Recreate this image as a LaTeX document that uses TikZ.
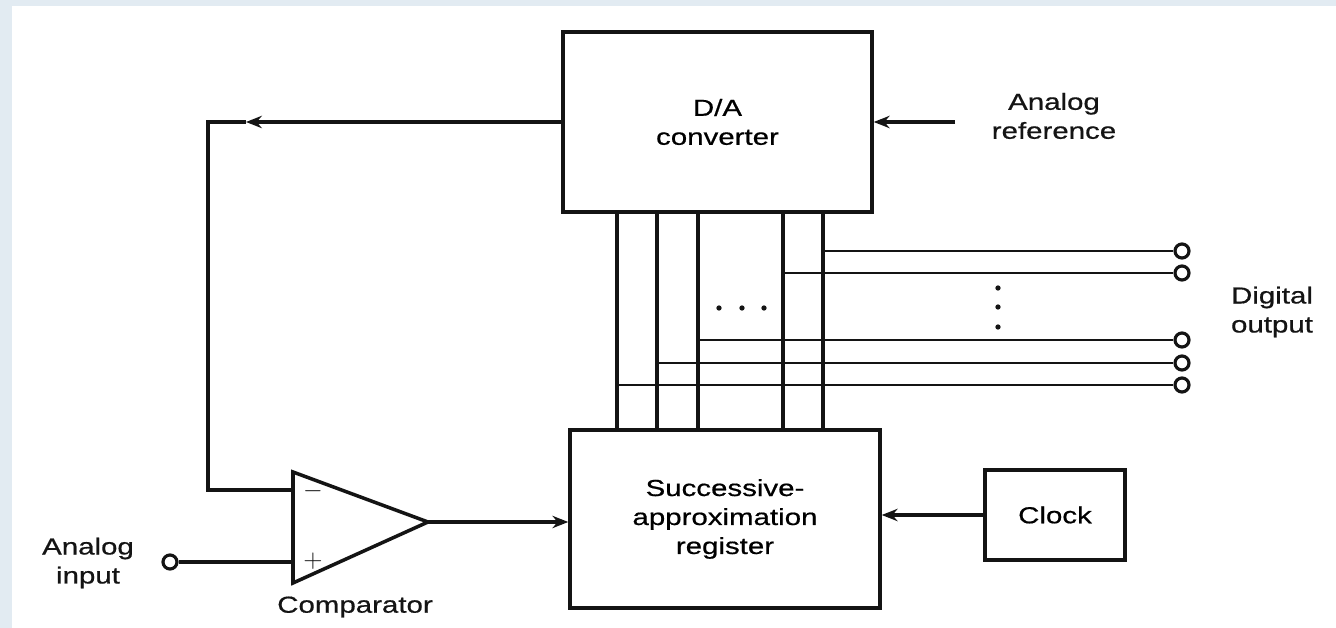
\documentclass[tikz,border=0pt]{standalone}
\usepackage{fontspec}
\setmainfont{Liberation Sans}[FakeStretch=1.27, FakeBold=0.6]
\usetikzlibrary{arrows.meta, calc, positioning}
\definecolor{paperblue}{HTML}{E2EBF2}
\definecolor{ink}{HTML}{141414}

\begin{document}
\begin{tikzpicture}[x=0.02cm, y=-0.02cm, line width=1.9pt, draw=ink,
    block/.style={draw=ink, line width=2pt, inner sep=0pt, align=center,
        font=\fontsize{13.2}{16.5}\selectfont},
    txt/.style={align=center, text=ink, font=\fontsize{13.2}{16.5}\selectfont},
    pin/.style={draw=ink, circle, line width=1.8pt, minimum size=0.28cm, inner sep=0pt},
    bus/.style={line width=1.5pt},
    >={Stealth[length=9pt,width=7pt]}]
    \useasboundingbox (0,0) rectangle (1336,628);
    % 背景
    \fill[paperblue] (0,0) rectangle (1336,628);
    \fill[white] (12,6) rectangle (1336,628);

    % 方框
    \node[block, minimum width=6.18cm, minimum height=3.6cm] (da) at (717.5,122) {D/A\\converter};
    \node[block, minimum width=6.2cm, minimum height=3.56cm] (sar) at (725,519) {Successive-\\approximation\\register};
    \node[block, minimum width=2.8cm, minimum height=1.8cm] (clock) at (1055,515) {Clock};

    % 比较器
    \coordinate (cmptop) at (293,472);
    \coordinate (cmpbot) at (293,583);
    \coordinate (cmpout) at (428,522);
    \coordinate (minus) at (293,490);
    \coordinate (plus) at (293,562);
    \draw[line width=2pt, line join=miter] (cmptop) -- (cmpout) -- (cmpbot) -- cycle;
    \node[txt, font=\fontsize{15}{16}\selectfont] (msign) at (313,491) {$-$};
    \node[txt, font=\fontsize{15}{16}\selectfont] (psign) at (313,561) {$+$};
    \node[txt] (cmplabel) at (355,607) {Comparator};

    % 输入
    \node[pin] (ain) at (170,562) {};
    \node[txt] (ainlabel) at (88,563) {Analog\\input};
    \draw (ain) -- (plus);

    % 反馈
    \coordinate (fbarrow) at (246,122);
    \coordinate (fbcorner) at (208,122);
    \draw[->] (da.west) -- (fbarrow);
    \draw (fbarrow) -- (fbcorner) |- (minus);

    % 参考电压
    \coordinate (refin) at (955,122);
    \node[txt] (reflabel) at (1054,116) {Analog\\reference};
    \draw[->] (refin) -- (da.east);

    % 比较器输出, 时钟
    \draw[->] (cmpout) -- (sar.west |- cmpout);
    \draw[->] (clock.west) -- (sar.east |- clock.west);

    % 数据线
    \foreach \x/\y/\n in {823/251/1, 783/273/2, 698/340/3, 657/363/4, 617/385/5} {
        \draw (da.south -| \x,0) -- (sar.north -| \x,0);
        \node[pin] (out\n) at (1182,\y) {};
        \draw[bus] (\x,\y) -- (out\n.west);
    }
    \node[txt] (outlabel) at (1272,312) {Digital\\output};

    % 省略号
    \foreach \x in {719,742,764} \fill[ink] (\x,308) circle (1.5pt);
    \foreach \y in {288,307,327} \fill[ink] (998,\y) circle (1.5pt);
\end{tikzpicture}
\end{document}
